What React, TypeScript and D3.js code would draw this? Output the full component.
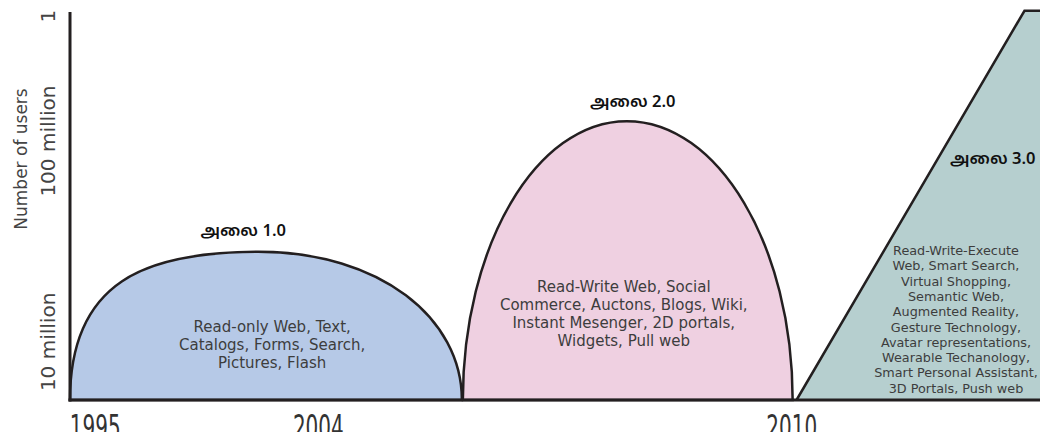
import React from "react";
import * as d3 from "d3";

// ---- data (timeline units 0..100 on x, relative user scale 0..100 on y) ----
const xTickLabels = ["1995", "2004", "2010"];
const xTickValues = [2.6, 25.6, 74.4];

const yTickLabels = ["10 million", "100 million", "1"];
const yTickValues = [14.9, 66.4, 98.4];

const waveNames = ["அலை 1.0", "அலை 2.0", "அலை 3.0"];
const waveStart = [0, 40.5, 74.9];
const wavePeakX = [19.4, 57.4, 98.4];
const waveEnd = [40.4, 74.5, 101];
const wavePeakY = [38, 71.5, 99.8];

const waveText1 = ["Read-only Web, Text,", "Catalogs, Forms, Search,", "Pictures, Flash"];
const waveText2 = [
  "Read-Write Web, Social",
  "Commerce, Auctons, Blogs, Wiki,",
  "Instant Mesenger, 2D portals,",
  "Widgets, Pull web",
];
const waveText3 = [
  "Read-Write-Execute",
  "Web, Smart Search,",
  "Virtual Shopping,",
  "Semantic Web,",
  "Augmented Reality,",
  "Gesture Technology,",
  "Avatar representations,",
  "Wearable Techanology,",
  "Smart Personal Assistant,",
  "3D Portals, Push web",
];

const yTitle = "Number of users";

// ---- styles ----
const W = 1040;
const H = 432;
const fills = ["#b6c9e7", "#efd0e1", "#b6cfcf"];
const stroke = "#231f20";
const textColor = "#3d3d3d";
const font = "'DejaVu Sans', Verdana, sans-serif";
// curve fullness: [left vertical, left horizontal, right horizontal, right vertical]
const humpShape = [
  [0.8, 0.6, 0.6, 0.55],
  [0.552, 0.552, 0.552, 0.552],
];

export default function App() {
  const x = d3.scaleLinear().domain([0, 100]).range([70, 1040]);
  const y = d3.scaleLinear().domain([0, 100]).range([400, 10]);

  const hump = (i: number) => {
    const [al, bl, br, ar] = humpShape[i];
    const x0 = x(waveStart[i]);
    const xp = x(wavePeakX[i]);
    const x1 = x(waveEnd[i]);
    const yb = y(0);
    const yt = y(wavePeakY[i]);
    const p = d3.path();
    p.moveTo(x0, yb);
    p.bezierCurveTo(x0, yb - al * (yb - yt), xp - bl * (xp - x0), yt, xp, yt);
    p.bezierCurveTo(xp + br * (x1 - xp), yt, x1, yb - ar * (yb - yt), x1, yb);
    p.closePath();
    return p.toString();
  };

  const trap = d3
    .line<[number, number]>()
    .x((d) => x(d[0]))
    .y((d) => y(d[1]))([
    [waveStart[2], 0],
    [wavePeakX[2], wavePeakY[2]],
    [waveEnd[2], wavePeakY[2]],
    [waveEnd[2], 0],
  ]) as string;

  const descBlocks = [
    { lines: waveText1, cx: x(wavePeakX[0]) + 14, y0: 332, dy: 18, size: 15 },
    { lines: waveText2, cx: x(wavePeakX[1]) - 3, y0: 292, dy: 18, size: 15 },
    { lines: waveText3, cx: 956, y0: 255, dy: 15.3, size: 12.8 },
  ];

  const nameLabels = [
    { x: x(wavePeakX[0]) - 15, y: y(wavePeakY[0]) - 16, anchor: "middle" },
    { x: x(wavePeakX[1]) + 6, y: y(wavePeakY[1]) - 14, anchor: "middle" },
    { x: 950, y: 164, anchor: "start" },
  ];

  return (
    <svg
      width={W}
      height={H}
      style={{ position: "absolute", left: 0, top: 0, background: "#fff" }}
      fontFamily={font}
    >
      <rect width={W} height={H} fill="#fff" />
      <path d={hump(0)} fill={fills[0]} stroke={stroke} strokeWidth={2.5} />
      <path d={hump(1)} fill={fills[1]} stroke={stroke} strokeWidth={2.5} />
      <path d={trap} fill={fills[2]} stroke={stroke} strokeWidth={2.5} />

      {/* axes */}
      <line x1={x(0)} x2={x(0)} y1={y(0) + 1.5} y2={12} stroke={stroke} strokeWidth={3} />
      <line x1={x(0) - 1.5} x2={W} y1={y(0)} y2={y(0)} stroke={stroke} strokeWidth={3} />

      {xTickLabels.map((t, i) => (
        <text
          key={t}
          transform={`translate(${x(xTickValues[i])},439) scale(1,1.7)`}
          textAnchor="middle"
          fontSize={20}
          fill="#333"
        >
          {t}
        </text>
      ))}
      {yTickLabels.map((t, i) => (
        <text
          key={t}
          transform={`translate(55,${y(yTickValues[i])}) rotate(-90)`}
          textAnchor="middle"
          fontSize={20}
          fill="#444"
        >
          {t}
        </text>
      ))}
      <text transform="translate(27,159) rotate(-90)" textAnchor="middle" fontSize={17} fill="#444">
        {yTitle}
      </text>

      {waveNames.map((n, i) => (
        <text
          key={n}
          x={nameLabels[i].x}
          y={nameLabels[i].y}
          textAnchor={nameLabels[i].anchor as any}
          fontSize={16.5}
          fontWeight={600}
          fill="#111"
          fontFamily="'Noto Sans Tamil', 'Noto Sans', 'DejaVu Sans', sans-serif"
        >
          {n}
        </text>
      ))}

      {descBlocks.map((b, bi) => (
        <text key={bi} textAnchor="middle" fontSize={b.size} fill={textColor}>
          {b.lines.map((l, li) => (
            <tspan key={li} x={b.cx} y={b.y0 + li * b.dy}>
              {l}
            </tspan>
          ))}
        </text>
      ))}
    </svg>
  );
}
